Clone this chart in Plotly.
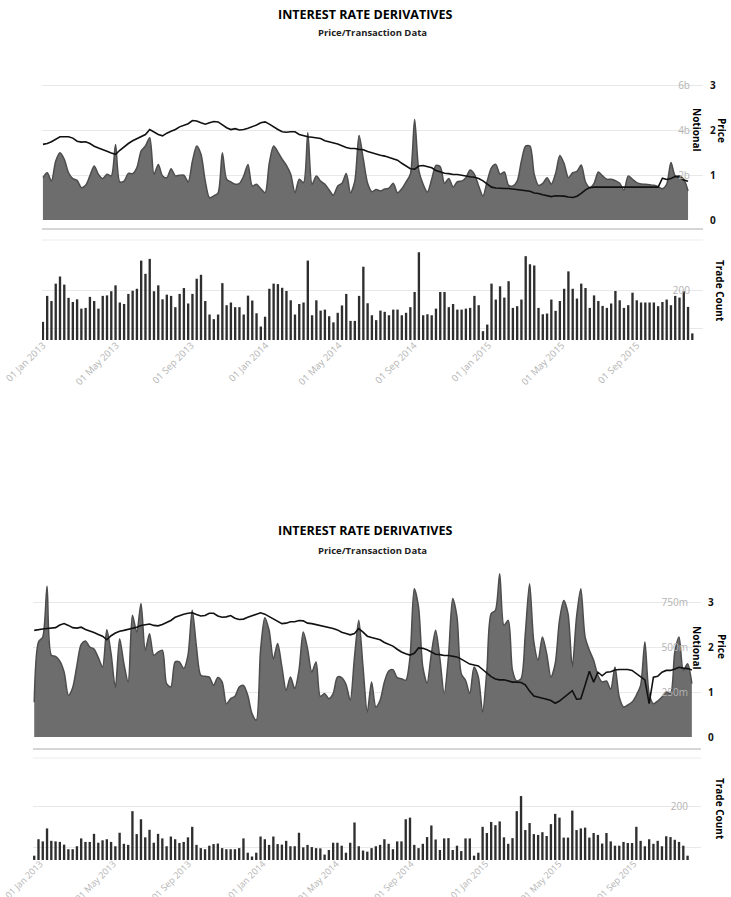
import pandas as pd
import plotly.graph_objects as go

# ---------------- DATA ----------------
# Panel 1 (weekly, from 2013-01-01)
top_start = "2013-01-01"
top_notional_b = [1.88, 2.10, 1.73, 2.62, 2.99, 2.70, 2.10, 1.84, 1.76, 1.44, 1.54, 1.96, 2.40, 2.03, 1.84, 2.03,
                  1.96, 3.36, 1.69, 1.73, 2.07, 2.06, 2.33, 3.07, 3.29, 3.66, 2.03, 2.47, 1.96, 1.88, 2.28, 1.96,
                  1.99, 1.99, 1.69, 2.62, 3.29, 2.92, 1.73, 0.99, 1.07, 1.21, 2.99, 1.81, 1.69, 1.59, 1.63, 1.96,
                  2.47, 1.51, 1.59, 1.39, 1.21, 2.55, 3.29, 3.02, 2.70, 2.43, 2.03, 1.21, 1.81, 1.66, 3.88, 1.59,
                  1.96, 1.73, 1.59, 1.33, 1.10, 1.51, 1.63, 2.07, 1.21, 1.73, 3.76, 2.70, 1.63,
                  1.26, 1.35, 1.29, 1.38, 1.42, 1.63, 1.21, 1.39, 1.69, 2.03, 4.47, 2.18, 1.59, 1.24, 1.81, 2.43,
                  2.37, 1.63, 1.84, 1.47, 1.70, 1.73, 1.88, 2.22, 2.03, 1.51, 1.07, 1.73, 2.33, 2.47, 2.03, 2.13,
                  1.54, 1.51, 1.73, 2.62, 3.29, 3.29, 2.03, 1.54, 1.63, 1.88, 1.59, 2.07, 2.87, 2.50, 1.88, 2.10,
                  2.16, 2.44, 1.69, 1.44, 1.63, 2.13, 1.96, 1.81, 1.81, 1.75, 1.63, 1.33, 1.96, 1.81, 1.66, 1.60,
                  1.59, 1.57, 1.54, 1.48, 1.39, 1.59, 2.55, 1.96, 1.96, 1.81, 1.29]
top_price = [1.68, 1.70, 1.74, 1.79, 1.85, 1.85, 1.85, 1.82, 1.75, 1.73, 1.74, 1.70, 1.64, 1.60, 1.57, 1.53,
             1.49, 1.46, 1.55, 1.63, 1.70, 1.76, 1.81, 1.85, 1.90, 2.01, 1.96, 1.90, 1.87, 1.93, 1.97, 2.01,
             2.07, 2.11, 2.14, 2.21, 2.20, 2.16, 2.13, 2.16, 2.19, 2.18, 2.12, 2.05, 2.01, 2.03, 2.00, 2.01,
             2.04, 2.07, 2.11, 2.16, 2.18, 2.13, 2.06, 2.01, 1.96, 1.95, 1.96, 1.96, 1.90, 1.87, 1.85, 1.84,
             1.82, 1.81, 1.76, 1.74, 1.72, 1.69, 1.65, 1.61, 1.59, 1.59, 1.57, 1.56, 1.52,
             1.49, 1.47, 1.44, 1.42, 1.39, 1.36, 1.33, 1.26, 1.20, 1.14, 1.13, 1.20, 1.21, 1.19, 1.16, 1.10,
             1.07, 1.04, 1.03, 1.01, 1.01, 0.99, 0.98, 0.96, 0.95, 0.92, 0.87, 0.80, 0.73, 0.71, 0.70, 0.70,
             0.70, 0.69, 0.68, 0.67, 0.65, 0.64, 0.60, 0.59, 0.56, 0.54, 0.52, 0.54, 0.54, 0.53, 0.51, 0.50,
             0.53, 0.59, 0.67, 0.72, 0.73, 0.73, 0.73, 0.73, 0.73, 0.73, 0.73, 0.73, 0.73, 0.73, 0.73, 0.73,
             0.73, 0.73, 0.73, 0.73, 0.93, 0.90, 0.92, 0.97, 0.95, 0.89, 0.86]
top_trades = [74, 180, 159, 230, 259, 226, 172, 155, 166, 128, 131, 176, 159, 128, 180, 182, 199, 223, 153, 147,
              188, 201, 209, 324, 270, 331, 199, 223, 166, 185, 180, 134, 188, 212, 149, 188, 250, 266, 159, 104,
              85, 104, 232, 142, 153, 134, 134, 104, 181, 161, 109, 55, 95, 209, 230, 228, 213, 200, 162, 104,
              147, 153, 324, 101, 162, 120, 124, 97, 72, 111, 141, 188, 78, 78, 180, 299, 150, 101, 81, 120,
              115, 101, 124, 124, 101, 111, 134, 196, 358, 101, 105, 101, 128, 196, 196, 134, 147, 124, 124, 128,
              131, 180, 142, 36, 63, 230, 165, 219, 173, 240, 131, 138, 165, 342, 309, 304, 131, 105, 108, 165,
              119, 159, 209, 280, 209, 169, 230, 212, 131, 182, 159, 139, 131, 149, 200, 162, 131, 142, 193, 162,
              153, 153, 153, 153, 138, 155, 165, 142, 180, 173, 199, 135, 27]

# Panel 2 (weekly, from 2012-12-22)
bot_start = "2012-12-22"
bot_notional_m = [193, 528, 556, 837, 454, 448, 422, 361, 232, 274, 398, 515, 533, 500, 489, 441, 389, 596, 463, 274,
                  546, 407, 306, 676, 583, 741, 482, 574, 454, 472, 482, 296, 278, 417, 417, 380, 454, 704, 500, 343,
                  337, 333, 287, 330, 306, 185, 213, 226, 278, 287, 232, 130, 93, 482, 663, 593, 435, 519, 389, 259,
                  333, 269, 370, 583, 491, 361, 417, 226, 241, 213, 241, 333, 330, 293, 204, 444, 648, 389, 139, 306,
                  167, 204, 306, 367, 374, 330, 324, 315, 444, 824, 722, 389, 300, 463, 593, 435, 241, 444, 769, 667,
                  352, 315, 241, 389, 333, 139, 370, 685, 704, 907, 620, 648, 370, 311, 324, 574, 852, 528, 426, 556,
                  463, 333, 407, 648, 759, 685, 389, 667, 824, 556, 482, 426, 343, 306, 311, 265, 389, 222, 167, 178,
                  194, 232, 287, 528, 241, 185, 200, 222, 250, 241, 472, 556, 370, 407, 296]
bot_price = [2.37, 2.39, 2.40, 2.41, 2.42, 2.43, 2.49, 2.52, 2.48, 2.43, 2.42, 2.44, 2.39, 2.36, 2.32, 2.28,
             2.24, 2.16, 2.25, 2.31, 2.35, 2.37, 2.39, 2.41, 2.44, 2.48, 2.50, 2.51, 2.48, 2.47, 2.50, 2.54,
             2.59, 2.66, 2.70, 2.73, 2.75, 2.76, 2.72, 2.69, 2.70, 2.75, 2.75, 2.69, 2.66, 2.67, 2.70, 2.64,
             2.61, 2.62, 2.66, 2.69, 2.73, 2.76, 2.73, 2.68, 2.62, 2.57, 2.52, 2.53, 2.56, 2.56, 2.59, 2.58,
             2.53, 2.52, 2.50, 2.47, 2.46, 2.44, 2.41, 2.38, 2.33, 2.30, 2.27, 2.30, 2.41, 2.33, 2.24, 2.21,
             2.19, 2.16, 2.10, 2.06, 2.02, 1.95, 1.89, 1.85, 1.82, 1.86, 1.98, 1.97, 1.94, 1.89, 1.84, 1.83,
             1.81, 1.81, 1.80, 1.78, 1.73, 1.68, 1.62, 1.60, 1.58, 1.50, 1.42, 1.34, 1.29, 1.27, 1.27, 1.25,
             1.22, 1.22, 1.21, 1.16, 1.02, 0.91, 0.89, 0.87, 0.84, 0.81, 0.75, 0.80, 0.87, 0.96, 1.03, 0.84,
             0.85, 1.15, 1.46, 1.22, 1.44, 1.36, 1.44, 1.45, 1.49, 1.50, 1.50, 1.50, 1.48, 1.41, 1.32, 1.27,
             0.74, 1.33, 1.35, 1.44, 1.48, 1.48, 1.51, 1.55, 1.53, 1.52, 1.49]
bot_trades = [16, 77, 69, 117, 71, 69, 67, 57, 40, 40, 51, 80, 67, 67, 97, 64, 73, 77, 67, 51,
              101, 60, 56, 181, 96, 151, 84, 112, 64, 97, 80, 51, 87, 77, 63, 67, 84, 123, 56, 44,
              40, 53, 59, 61, 44, 40, 40, 40, 44, 80, 27, 13, 27, 87, 77, 56, 87, 59, 57, 71,
              51, 51, 101, 47, 56, 48, 44, 43, 20, 37, 64, 64, 53, 27, 64, 139, 51, 35, 31, 44,
              51, 56, 77, 60, 40, 69, 69, 151, 157, 56, 44, 60, 85, 128, 76, 37, 80, 81, 37, 53,
              33, 80, 80, 16, 27, 123, 100, 141, 129, 143, 84, 60, 81, 181, 237, 111, 137, 96, 93, 103,
              89, 133, 171, 157, 83, 83, 183, 111, 117, 120, 83, 100, 93, 61, 100, 69, 53, 53, 67, 63,
              63, 123, 71, 51, 77, 60, 71, 51, 88, 85, 75, 67, 53, 16]

title_text = "INTEREST RATE DERIVATIVES"
subtitle_text = "Price/Transaction Data"
top_notional_ticks = ["0b", "2b", "4b", "6b", ""]
bot_notional_ticks = ["0m", "250m", "500m", "750m", ""]
price_ticks = ["0", "1", "2", "3", ""]

# ---------------- LAYOUT HELPERS ----------------
W, H = 731, 897
def fx(x):
    return x / W
def fy(y):
    return 1 - y / H

TITLE_FONT = "Open Sans, sans-serif"
TICK_FONT = "Open Sans, sans-serif"
AREA_FILL = "#6d6d6d"
AREA_LINE = "#4d4d4d"
BAR_COLOR = "#2e2e2e"
GRID = "#e8e8e8"
LABEL_GRAY = "#b4b4b4"

def weekly(start, n):
    return pd.date_range(start, periods=n, freq="7D")

panels = [
    dict(start=top_start, notional=[v * 1e9 for v in top_notional_b], price=top_price, trades=top_trades,
         nrange=8e9, nticks=top_notional_ticks, xdom=[fx(42), fx(703)], adom=[fy(220), fy(40)],
         bdom=[fy(340), fy(240)], xrange=["2012-12-30 12:00", "2015-12-18 12:00"], brange=408,
         bticks=[47, 200], title_y=14, sub_y=32, sep=(229, 240), notional_y=130, price_y=130,
         trade_y=291, date_standoff=-3, date_size=9.5),
    dict(start=bot_start, notional=[v * 1e6 for v in bot_notional_m], price=bot_price, trades=bot_trades,
         nrange=1e9, nticks=bot_notional_ticks, xdom=[fx(33), fx(701)], adom=[fy(737), fy(557)],
         bdom=[fy(860), fy(758)], xrange=["2012-12-20", "2015-12-20"], brange=378,
         bticks=[47, 200], title_y=530, sub_y=550, sep=(749, 758), notional_y=648, price_y=646,
         trade_y=809, date_standoff=-4, date_size=9),
]

fig = go.Figure()
annotations = []
shapes = []
layout_axes = {}

for i, p in enumerate(panels):
    k = i * 2
    xa, xb = k + 1, k + 2
    ya, yp, yb = i * 3 + 1, i * 3 + 2, i * 3 + 3
    xa_name = "x" if xa == 1 else f"x{xa}"
    xb_name = f"x{xb}"
    ya_name = "y" if ya == 1 else f"y{ya}"
    yp_name = f"y{yp}"
    yb_name = f"y{yb}"

    d_area = weekly(p["start"], len(p["notional"]))
    d_price = weekly(p["start"], len(p["price"]))
    d_bar = weekly(p["start"], len(p["trades"]))

    fig.add_trace(go.Scatter(x=d_area, y=p["notional"], mode="lines",
                             line=dict(color=AREA_LINE, width=1.5, shape="spline", smoothing=0.8),
                             fill="tozeroy", fillcolor=AREA_FILL, xaxis=xa_name, yaxis=ya_name,
                             showlegend=False, hoverinfo="skip"))
    fig.add_trace(go.Scatter(x=d_price, y=p["price"], mode="lines", line=dict(color="#111111", width=1.6),
                             xaxis=xa_name, yaxis=yp_name, showlegend=False, hoverinfo="skip"))
    fig.add_trace(go.Bar(x=d_bar, y=p["trades"], marker=dict(color=BAR_COLOR, line=dict(width=0)),
                         xaxis=xb_name, yaxis=yb_name, showlegend=False, hoverinfo="skip"))

    layout_axes[f"xaxis{'' if xa == 1 else xa}"] = dict(
        domain=p["xdom"], range=p["xrange"], type="date", anchor=ya_name, automargin=False,
        showticklabels=False, showgrid=False, zeroline=False, showline=False)
    layout_axes[f"xaxis{xb}"] = dict(
        domain=p["xdom"], range=p["xrange"], type="date", anchor=yb_name, automargin=False,
        tick0="2013-01-01", dtick="M4", tickformat="%d %b %Y", tickangle=-45, ticklabeloverflow="allow",
        ticklabelstandoff=p["date_standoff"],
        tickfont=dict(family=TICK_FONT, size=p["date_size"], color=LABEL_GRAY),
        showgrid=False, zeroline=False, showline=False, ticks="")
    nvals = [p["nrange"] * f for f in (0, 0.25, 0.5, 0.75, 1.0)]
    layout_axes[f"yaxis{'' if ya == 1 else ya}"] = dict(
        domain=p["adom"], range=[0, p["nrange"]], anchor=xa_name, side="right", automargin=False,
        tickvals=nvals, ticktext=p["nticks"], ticklabelposition="inside", ticklabelstandoff=10,
        tickfont=dict(family=TICK_FONT, size=10, color=LABEL_GRAY),
        showgrid=True, gridcolor=GRID, gridwidth=1, zeroline=False, showline=False, ticks="")
    layout_axes[f"yaxis{yp}"] = dict(
        overlaying=ya_name, range=[0, 4], anchor=xa_name, side="right", automargin=False,
        tickvals=[0, 1, 2, 3, 4], ticktext=price_ticks, ticklabelstandoff=6,
        tickfont=dict(family=TICK_FONT, size=10, color="#111111", weight="bold"),
        showgrid=False, zeroline=False, showline=False, ticks="")
    layout_axes[f"yaxis{yb}"] = dict(
        domain=p["bdom"], range=[0, p["brange"]], anchor=xb_name, side="right", automargin=False,
        tickvals=p["bticks"], ticktext=["", "200"], ticklabelposition="inside", ticklabelstandoff=10,
        tickfont=dict(family=TICK_FONT, size=10, color=LABEL_GRAY),
        showgrid=True, gridcolor=GRID, gridwidth=1, zeroline=False, showline=False, ticks="")

    annotations.append(dict(text=f"<b>{title_text}</b>", x=fx(365), y=fy(p["title_y"]), xref="paper", yref="paper",
                            showarrow=False, font=dict(family=TITLE_FONT, size=12.5, color="#000"),
                            xanchor="center", yanchor="middle"))
    annotations.append(dict(text=f"<b>{subtitle_text}</b>", x=fx(372), y=fy(p["sub_y"]), xref="paper", yref="paper",
                            showarrow=False, font=dict(family=TITLE_FONT, size=9.5, color="#222"),
                            xanchor="center", yanchor="middle"))
    annotations.append(dict(text="<b>Notional</b>", x=fx(697), y=fy(p["notional_y"]), xref="paper", yref="paper",
                            showarrow=False, textangle=90, font=dict(family=TICK_FONT, size=10, color="#000"),
                            xanchor="center", yanchor="middle"))
    annotations.append(dict(text="<b>Price</b>", x=fx(722), y=fy(p["price_y"]), xref="paper", yref="paper",
                            showarrow=False, textangle=90, font=dict(family=TICK_FONT, size=10, color="#000"),
                            xanchor="center", yanchor="middle"))
    annotations.append(dict(text="<b>Trade Count</b>", x=fx(720), y=fy(p["trade_y"]), xref="paper", yref="paper",
                            showarrow=False, textangle=90, font=dict(family=TICK_FONT, size=10, color="#000"),
                            xanchor="center", yanchor="middle"))
    s1, s2 = p["sep"]
    x0 = p["xdom"][0]
    x1 = p["xdom"][1]
    shapes.append(dict(type="line", xref="paper", yref="paper", x0=x0, x1=x1, y0=fy(s1), y1=fy(s1),
                       line=dict(color="#d6d6d6", width=2)))
    shapes.append(dict(type="line", xref="paper", yref="paper", x0=x0, x1=x1, y0=fy(s2), y1=fy(s2),
                       line=dict(color="#ececec", width=1)))

fig.update_layout(
    width=W, height=H,
    margin=dict(l=0, r=0, t=0, b=0, autoexpand=False),
    paper_bgcolor="white", plot_bgcolor="white",
    bargap=0.45,
    annotations=annotations,
    shapes=shapes,
    **layout_axes,
)

# remove the browser's default 8px body margin so the figure sits at the page origin
fig.write_html("out.html", config={"displayModeBar": False},
               post_script="document.body.style.margin='0';document.body.style.overflow='hidden';")
